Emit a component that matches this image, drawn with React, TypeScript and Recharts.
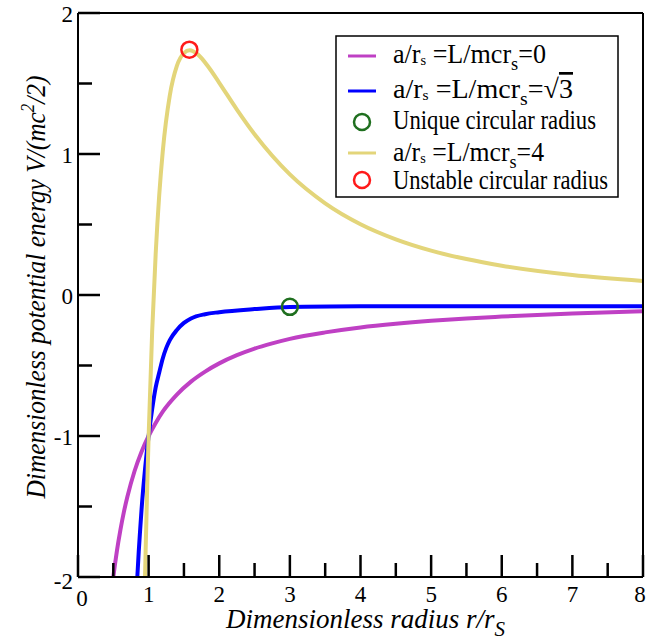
import React from 'react';
import { ComposedChart, Line, Scatter, XAxis, YAxis, Customized } from 'recharts';

// ---- data ----
const radiusTicks = [0, 0.5, 1, 1.5, 2, 2.5, 3, 3.5, 4, 4.5, 5, 5.5, 6, 6.5, 7, 7.5, 8];
const energyTicks = [-2, -1.5, -1, -0.5, 0, 0.5, 1, 1.5, 2];

// a/rs = 0
const zeroR = [0.48, 0.5, 0.55, 0.6, 0.65, 0.7, 0.8, 0.9, 1, 1.1, 1.2, 1.4, 1.6, 1.8, 2, 2.25, 2.5, 2.75, 3, 3.5, 4, 4.5, 5, 5.5, 6, 7, 8];
const zeroV = [-2.083, -2, -1.818, -1.667, -1.538, -1.429, -1.25, -1.111, -1, -0.907, -0.827, -0.706, -0.614, -0.543, -0.485, -0.427, -0.38, -0.343, -0.311, -0.265, -0.23, -0.204, -0.183, -0.166, -0.153, -0.131, -0.115];

// a/rs = sqrt(3)
const sqrt3R = [0.83, 0.84, 0.86, 0.88, 0.9, 0.95, 1, 1.05, 1.1, 1.15, 1.2, 1.25, 1.3, 1.4, 1.5, 1.6, 1.8, 2, 2.5, 3, 4, 5, 6, 7, 8];
const sqrt3V = [-2.1, -2, -1.82, -1.665, -1.52, -1.23, -1, -0.81, -0.655, -0.55, -0.45, -0.375, -0.32, -0.248, -0.198, -0.166, -0.136, -0.122, -0.1, -0.085, -0.08, -0.079, -0.079, -0.079, -0.079];

// a/rs = 4
const fourR = [0.94, 0.949, 0.96, 0.98, 1, 1.05, 1.1, 1.15, 1.2, 1.3, 1.4, 1.5, 1.58, 1.7, 1.85, 2, 2.25, 2.5, 3, 3.5, 4, 4.5, 5, 5.5, 6, 7, 8];
const fourV = [-2.22, -2, -1.765, -1.36, -1, -0.26, 0.293, 0.708, 1.018, 1.416, 1.625, 1.715, 1.735, 1.705, 1.615, 1.505, 1.315, 1.14, 0.855, 0.65, 0.502, 0.395, 0.315, 0.255, 0.208, 0.142, 0.1];

const uniqueR = [3];
const uniqueV = [-0.084];
const unstableR = [1.577];
const unstableV = [1.74];

const zip = (rs: number[], vs: number[]) => rs.map((r, i) => ({ r, v: vs[i] }));
const zeroData = zip(zeroR, zeroV);
const sqrt3Data = zip(sqrt3R, sqrt3V);
const fourData = zip(fourR, fourV);
const uniqueData = zip(uniqueR, uniqueV);
const unstableData = zip(unstableR, unstableV);

// ---- styles ----
const FONT = '"Liberation Serif", "DejaVu Serif", "Noto Serif", "Times New Roman", serif';
const C_ZERO = '#bf40c4';
const C_SQRT3 = '#0000ff';
const C_FOUR = '#e3d57a';
const C_GREEN = '#1f6f1f';
const C_RED = '#ff1a1a';
const MAJ = 22;
const MIN = 14;
const TICK_W = 2.5;
const isMajor = (v: number) => Math.abs(v - Math.round(v)) < 1e-6;
const serif: React.CSSProperties = { fontFamily: FONT };
const serifItalic: React.CSSProperties = { fontFamily: FONT, fontStyle: 'italic' };

const BottomTick = (p: any) => {
  const v = p.payload.value;
  const major = isMajor(v);
  const dx = v === 0 ? 4 : v === 8 ? -3 : 0;
  return (
    <g>
      <line x1={p.x} y1={p.y} x2={p.x} y2={p.y - (major ? MAJ : MIN)} stroke="#000" strokeWidth={TICK_W} />
      {major && (
        <text x={p.x + dx} y={p.y + (v === 0 ? 29 : 25)} textAnchor="middle" style={serif} fontSize={23} fill="#000">
          {v}
        </text>
      )}
    </g>
  );
};
const TopTick = (p: any) => {
  const v = p.payload.value;
  return <line x1={p.x} y1={p.y} x2={p.x} y2={p.y + (isMajor(v) ? MAJ : MIN)} stroke="#000" strokeWidth={TICK_W} />;
};
const LeftTick = (p: any) => {
  const v = p.payload.value;
  const major = isMajor(v);
  return (
    <g>
      <line x1={p.x} y1={p.y} x2={p.x + (major ? MAJ : MIN)} y2={p.y} stroke="#000" strokeWidth={TICK_W} />
      {major && (
        <text x={p.x - 5} y={p.y + (v === -2 ? 12 : 9)} textAnchor="end" style={serif} fontSize={23} fill="#000">
          {v}
        </text>
      )}
    </g>
  );
};
const RightTick = (p: any) => {
  const v = p.payload.value;
  return <line x1={p.x} y1={p.y} x2={p.x - (isMajor(v) ? MAJ : MIN - 2)} y2={p.y} stroke="#000" strokeWidth={TICK_W} />;
};

const YTitle = (props: any) => {
  const vb = props.viewBox || { x: 0, y: 13, width: 78, height: 564 };
  const cx = vb.x + 45;
  const cy = vb.y + vb.height / 2 - 8;
  return (
    <text
      x={cx}
      y={cy}
      transform={`rotate(-90 ${cx} ${cy})`}
      textAnchor="middle"
      style={serifItalic}
      fontSize={27}
      fill="#000"
      textLength={423}
      lengthAdjust="spacingAndGlyphs"
    >
      Dimensionless potential energy V/(mc
      <tspan fontSize={18} dy={-11}>2</tspan>
      <tspan dy={11}>/2)</tspan>
    </text>
  );
};

const XTitle = (props: any) => {
  const vb = props.viewBox || { x: 78, y: 577, width: 565, height: 65 };
  const cx = vb.x + vb.width / 2 + 5;
  return (
    <text
      x={cx}
      y={vb.y + 51}
      textAnchor="middle"
      style={serifItalic}
      fontSize={27}
      fill="#000"
      textLength={279}
      lengthAdjust="spacingAndGlyphs"
    >
      Dimensionless radius r/r
      <tspan fontSize={21} dy={8} style={serif}>S</tspan>
    </text>
  );
};

const LegendBox = () => {
  const x0 = 336;
  const y0 = 36;
  const lx1 = 348;
  const lx2 = 376;
  const tx = 393;
  const formula = (y: number, len: number, last: React.ReactNode) => (
    <text x={tx} y={y} style={serif} fontSize={27} fill="#000" textLength={len} lengthAdjust="spacingAndGlyphs">
      a/r
      <tspan fontSize={15} dy={2}>s</tspan>
      <tspan dy={-2}> =L/mcr</tspan>
      <tspan fontSize={19} dy={7}>s</tspan>
      <tspan dy={-7}>=</tspan>
      {last}
    </text>
  );
  return (
    <g>
      <rect x={x0} y={y0} width={282} height={161} fill="#fff" stroke="#000" strokeWidth={1.5} />
      <line x1={lx1} x2={lx2} y1={56} y2={56} stroke={C_ZERO} strokeWidth={3} />
      {formula(63, 153, <tspan>0</tspan>)}
      <line x1={lx1} x2={lx2} y1={91} y2={91} stroke={C_SQRT3} strokeWidth={3} />
      {formula(
        98,
        180,
        <>
          <tspan>{'\u221A'}</tspan>
          <tspan style={{ textDecoration: 'overline' }}>3</tspan>
        </>
      )}
      <circle cx={362} cy={122} r={8} fill="none" stroke={C_GREEN} strokeWidth={2.5} />
      <text x={tx} y={129} style={serif} fontSize={27} fill="#000" textLength={203} lengthAdjust="spacingAndGlyphs">
        Unique circular radius
      </text>
      <line x1={lx1} x2={lx2} y1={153} y2={153} stroke={C_FOUR} strokeWidth={3} />
      {formula(161, 151, <tspan>4</tspan>)}
      <circle cx={362} cy={180} r={8} fill="none" stroke={C_RED} strokeWidth={2.5} />
      <text x={tx} y={189} style={serif} fontSize={27} fill="#000" textLength={215} lengthAdjust="spacingAndGlyphs">
        Unstable circular radius
      </text>
    </g>
  );
};

const ringShape = (color: string) => (p: any) => (
  <circle cx={p.cx} cy={p.cy} r={8} fill="none" stroke={color} strokeWidth={2.5} />
);

export default function App() {
  return (
    <div style={{ position: 'absolute', left: 0, top: 0, width: 646, height: 642, background: '#fff' }}>
      <ComposedChart width={646} height={642} margin={{ top: 0, right: 0, bottom: 0, left: 0 }}>
        <XAxis
          dataKey="r"
          type="number"
          domain={[0, 8]}
          allowDataOverflow
          ticks={radiusTicks}
          interval={0}
          height={65}
          tickSize={0}
          tickMargin={0}
          tickLine={false}
          tick={BottomTick}
          axisLine={{ stroke: '#000', strokeWidth: 2 }}
          label={{ content: XTitle }}
        />
        <XAxis
          xAxisId="top"
          orientation="top"
          type="number"
          domain={[0, 8]}
          ticks={radiusTicks}
          interval={0}
          height={13}
          tickSize={0}
          tickMargin={0}
          tickLine={false}
          tick={TopTick}
          axisLine={{ stroke: '#000', strokeWidth: 2 }}
        />
        <YAxis
          type="number"
          domain={[-2, 2]}
          allowDataOverflow
          ticks={energyTicks}
          interval={0}
          width={78}
          tickSize={0}
          tickMargin={0}
          tickLine={false}
          tick={LeftTick}
          axisLine={{ stroke: '#000', strokeWidth: 2 }}
          label={{ content: YTitle }}
        />
        <YAxis
          yAxisId="right"
          orientation="right"
          type="number"
          domain={[-2, 2]}
          ticks={energyTicks}
          interval={0}
          width={3}
          tickSize={0}
          tickMargin={0}
          tickLine={false}
          tick={RightTick}
          axisLine={{ stroke: '#000', strokeWidth: 2 }}
        />
        <Line data={zeroData} dataKey="v" type="monotone" stroke={C_ZERO} strokeWidth={4} dot={false} activeDot={false} isAnimationActive={false} />
        <Line data={sqrt3Data} dataKey="v" type="monotone" stroke={C_SQRT3} strokeWidth={4} dot={false} activeDot={false} isAnimationActive={false} />
        <Scatter data={uniqueData} dataKey="v" shape={ringShape(C_GREEN)} isAnimationActive={false} />
        <Line data={fourData} dataKey="v" type="monotone" stroke={C_FOUR} strokeWidth={4} dot={false} activeDot={false} isAnimationActive={false} />
        <Scatter data={unstableData} dataKey="v" shape={ringShape(C_RED)} isAnimationActive={false} />
        <Customized component={LegendBox} />
      </ComposedChart>
    </div>
  );
}
